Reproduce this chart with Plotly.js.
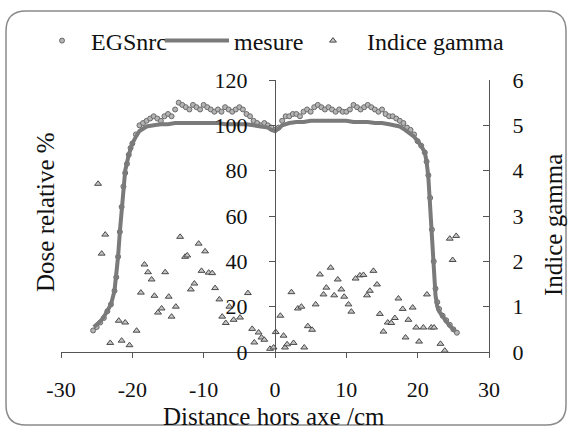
<!DOCTYPE html>
<html>
<head>
<meta charset="utf-8">
<script src="https://cdn.plot.ly/plotly-3.0.1.min.js"></script>
<style>
html,body{margin:0;padding:0;background:#fff;}
#chart{width:570px;height:433px;}
</style>
</head>
<body>
<div id="chart"></div>
<script>
// ---------- data ----------
const egsX = [-25.5,-25,-24.5,-24,-23.5,-23,-22.5,-22.25,-22,-21.75,-21.5,-21.25,-21,-20.75,-20.5,-20.25,-20,-19.5,-19,-18.5,-18,-17.5,-17,-16.5,-16,-15.5,-15,-14.5,-14,-13.5,-13,-12.5,-12,-11.5,-11,-10.5,-10,-9.5,-9,-8.5,-8,-7.5,-7,-6.5,-6,-5.5,-5,-4.5,-4,-3.5,-3,-2.5,-2,-1.5,-1,-0.5,0,0.5,1,1.5,2,2.5,3,3.5,4,4.5,5,5.5,6,6.5,7,7.5,8,8.5,9,9.5,10,10.5,11,11.5,12,12.5,13,13.5,14,14.5,15,15.5,16,16.5,17,17.5,18,18.5,19,19.5,20,20.5,21,21.25,21.5,21.75,22,22.25,22.5,22.75,23,23.5,24,24.5,25,25.5];
const egsDose = [9.5,11,13,15,18,21,27,33,42,53,64,73,79,83,87,90,92,96,100,101,102,103,104,103,102,104,105,104,107,110,109,108,107,109,108,107,109,108,107,106,107,106,108,107,106,107,108,107,105,104,102,101,100,101,100,99,98,99,102,104,104,105,105,104,106,107,106,108,109,108,107,108,107,106,107,106,106,107,109,108,107,108,109,108,107,106,107,105,104,104,103,102,101,99,98,96,93,91,88,84,78,68,54,40,28,22,19,16,14,12,10,8.5];

const mesX = [-25.4,-25,-24.5,-24,-23.5,-23,-22.5,-22.25,-22,-21.75,-21.5,-21.25,-21,-20.5,-20,-19.5,-19,-18.5,-18,-17,-16,-15,-14,-13,-12,-11,-10,-9,-8,-7,-6,-5,-4,-3,-2,-1,-0.5,0,0.5,1,2,3,4,5,6,7,8,9,10,11,12,13,14,15,16,17,17.5,18,18.5,19,19.5,20,20.5,21,21.25,21.5,21.75,22,22.25,22.5,22.75,23,23.5,24,24.5,25,25.3];
const mesDose = [11,12,13.5,15.5,18,21,27,33,42,53,64,74,80,87,92,95,97.5,98.5,99.5,100,100.5,100.5,101,101,101,101,101,101,101,100.5,100.5,100.5,100.5,100,99.5,99,98,97.5,98.5,100,101,101.5,101.5,102,102,102,102,102,102,101.5,101.5,101.5,101,101,100.5,100,99.5,98.5,97.5,96.5,95,93,91,88,84,77,66,52,38,25,20,18,15.5,13.5,11.5,10,9];

const gamX = [-24.8,-23.8,-24.3,-13.3,-10.7,-9.8,-12.6,-12.3,-18.3,-17.8,-17.3,-15.4,-10.3,-9.3,-8.8,-18.8,-16.9,-14.9,-11.3,-11.8,-8.4,-7.8,-13.9,-15.9,-16.4,-14.5,-21.9,-21.0,-19.4,-7.4,-6.9,-5.8,-4.9,-3.8,-6.4,-3.2,-2.3,-1.9,-1.5,-2.9,-23.1,-21.5,-20.4,-0.7,-0.2,
  0.1,0.75,1.2,1.4,1.7,2.6,2.3,24.5,25.4,24.9,7.8,6.3,8.8,11.3,11.9,12.4,13.8,14.3,7.2,6.8,8.3,9.3,9.7,10.3,10.7,13.3,12.9,5.7,3.2,3.7,4.6,5.2,14.7,15.8,16.3,16.8,15.2,17.3,17.9,19.3,18.7,21.3,19.8,20.8,21.9,22.3,18.3,20.2,23.2,23.8,4.1];
const gamY = [3.71,2.59,2.17,2.54,2.39,2.22,2.10,2.13,1.93,1.76,1.60,1.76,1.79,1.75,1.74,1.31,1.24,1.22,1.51,1.38,1.41,1.16,1.00,0.96,0.87,0.78,0.69,0.65,0.47,0.78,0.64,0.71,0.76,1.30,1.00,0.51,0.43,0.32,0.27,0.21,0.20,0.25,0.15,0.07,0.10,
  0.44,0.80,0.36,0.10,0.17,0.20,1.32,2.50,2.56,2.03,1.86,1.71,1.60,1.62,1.69,1.70,1.79,1.49,1.42,1.27,1.25,1.38,1.22,1.05,0.89,1.35,1.25,1.05,0.96,1.00,0.57,0.49,0.84,0.65,0.64,0.75,0.45,1.18,0.95,0.98,0.71,1.27,0.54,0.54,0.54,0.54,0.32,0.23,0.18,0.03,0.10];

const xTicks = [-30,-20,-10,0,10,20,30];
const yTicks = [0,20,40,60,80,100,120];
const y2Ticks = [0,1,2,3,4,5,6];
const names = ['EGSnrc','mesure','Indice gamma'];
const titles = {x:'Distance hors axe /cm', y:'Dose relative %', y2:'Indice gamma'};

// ---------- layout helpers ----------
const W = 570, H = 433;
const M = {l:61, r:81, t:80, b:81};
const PW = W - M.l - M.r, PH = H - M.t - M.b;
const px = v => (v - M.l) / PW;
const py = v => (H - M.b - v) / PH;
const FONT = 'Liberation Serif, Times New Roman, serif';
const INK = '#111';
const AX = '#555';

function roundRect(x0, y0, x1, y1, r) {
  const X = v => px(v).toFixed(5), Y = v => py(v).toFixed(5);
  return 'M' + X(x0 + r) + ',' + Y(y0) +
    ' L' + X(x1 - r) + ',' + Y(y0) +
    ' Q' + X(x1) + ',' + Y(y0) + ' ' + X(x1) + ',' + Y(y0 + r) +
    ' L' + X(x1) + ',' + Y(y1 - r) +
    ' Q' + X(x1) + ',' + Y(y1) + ' ' + X(x1 - r) + ',' + Y(y1) +
    ' L' + X(x0 + r) + ',' + Y(y1) +
    ' Q' + X(x0) + ',' + Y(y1) + ' ' + X(x0) + ',' + Y(y1 - r) +
    ' L' + X(x0) + ',' + Y(y0 + r) +
    ' Q' + X(x0) + ',' + Y(y0) + ' ' + X(x0 + r) + ',' + Y(y0) + ' Z';
}

const traces = [
  {x: egsX, y: egsDose, name: names[0], type: 'scatter', mode: 'markers',
   marker: {symbol: 'circle', size: 5, color: '#b4b4b4', line: {color: '#6a6a6a', width: 1}},
   legend: 'legend', xaxis: 'x', yaxis: 'y'},
  {x: mesX, y: mesDose, name: names[1], type: 'scatter', mode: 'lines',
   line: {color: '#7a7a7a', width: 4},
   legend: 'legend2', xaxis: 'x', yaxis: 'y'},
  {x: gamX, y: gamY, name: names[2], type: 'scatter', mode: 'markers',
   marker: {symbol: 'triangle-up', size: 6, color: '#c4c4c4', line: {color: '#4a4a4a', width: 1}},
   legend: 'legend3', xaxis: 'x', yaxis: 'y2'}
];

const legBase = {orientation: 'h', xref: 'container', yref: 'container', xanchor: 'left', yanchor: 'middle',
  y: 1 - 41 / H, bgcolor: 'rgba(0,0,0,0)', font: {family: FONT, size: 24, color: INK}};

const layout = {
  width: W, height: H, margin: M,
  paper_bgcolor: '#fff', plot_bgcolor: 'rgba(0,0,0,0)',
  font: {family: FONT, size: 22, color: INK},
  showlegend: true,
  legend: Object.assign({}, legBase, {x: 33 / W, itemwidth: 48}),
  legend2: Object.assign({}, legBase, {x: 160 / W, itemwidth: 64}),
  legend3: Object.assign({}, legBase, {x: 299 / W, itemwidth: 58}),
  xaxis: {range: [-30, 30], tickvals: xTicks, ticktext: xTicks.map(String),
    showline: true, linecolor: AX, linewidth: 1, ticks: 'outside', ticklen: 5, tickcolor: AX,
    showgrid: false, zeroline: false, anchor: 'y', ticklabelstandoff: 13,
    tickfont: {family: FONT, size: 22, color: INK}},
  yaxis: {range: [0, 120], tickvals: yTicks, ticktext: yTicks.map(String),
    anchor: 'free', position: 0.5, side: 'left',
    showline: true, linecolor: AX, linewidth: 1, ticks: 'outside', ticklen: 6, tickcolor: AX,
    showgrid: false, zeroline: false, ticklabelstandoff: 17,
    tickfont: {family: FONT, size: 22, color: INK}},
  yaxis2: {range: [0, 6], tickvals: y2Ticks, ticktext: y2Ticks.map(String),
    overlaying: 'y', side: 'right', anchor: 'x',
    showline: true, linecolor: AX, linewidth: 1, ticks: 'inside', ticklen: 6, tickcolor: AX,
    showgrid: false, zeroline: false, ticklabelstandoff: 18,
    tickfont: {family: FONT, size: 22, color: INK}},
  annotations: [
    {text: titles.x, xref: 'paper', yref: 'paper', x: px(274), y: py(416), showarrow: false,
     xanchor: 'center', yanchor: 'middle', font: {family: FONT, size: 25, color: INK}},
    {text: titles.y, xref: 'paper', yref: 'paper', x: px(45), y: py(212), showarrow: false,
     textangle: -90, xanchor: 'center', yanchor: 'middle', font: {family: FONT, size: 25, color: INK}},
    {text: titles.y2, xref: 'paper', yref: 'paper', x: px(553), y: py(225), showarrow: false,
     textangle: -90, xanchor: 'center', yanchor: 'middle', font: {family: FONT, size: 25, color: INK}}
  ],
  shapes: [
    {type: 'path', xref: 'paper', yref: 'paper', path: roundRect(6, 11, 566, 425, 20),
     line: {color: '#8a8a8a', width: 1.5}, fillcolor: 'rgba(0,0,0,0)', layer: 'below'}
  ]
};

Plotly.newPlot('chart', traces, layout, {displayModeBar: false, staticPlot: true});
</script>
</body>
</html>
